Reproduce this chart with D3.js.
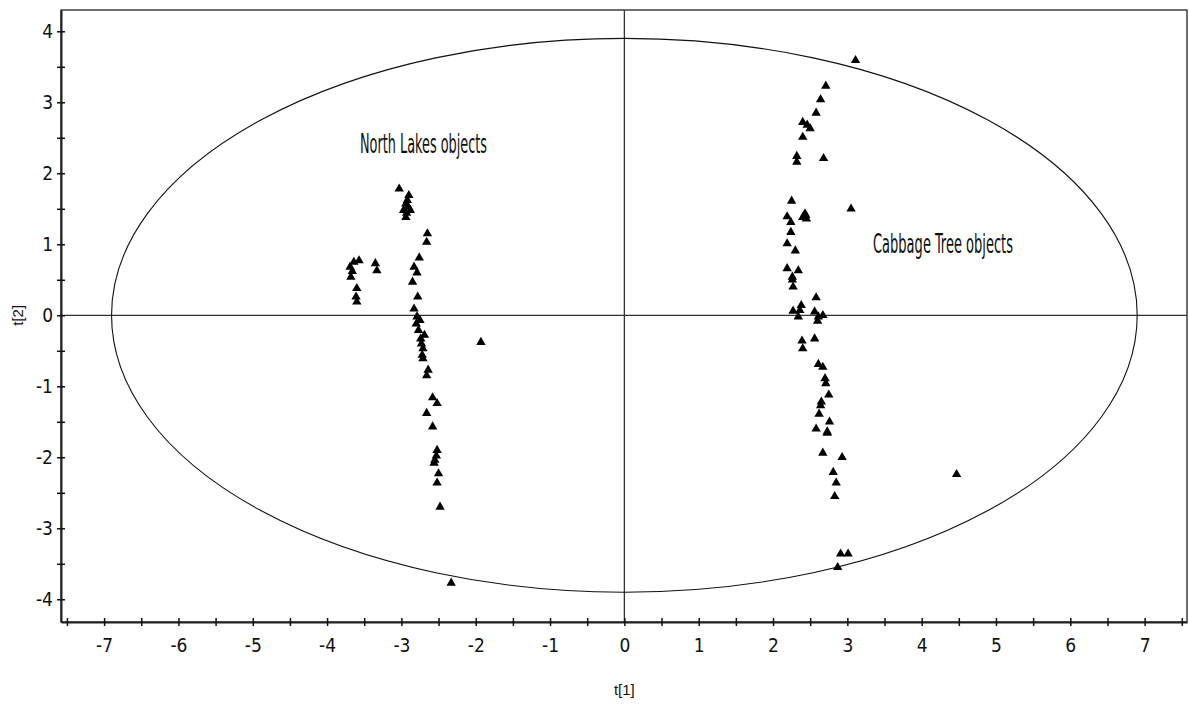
<!DOCTYPE html>
<html><head><meta charset="utf-8">
<script src="https://cdn.jsdelivr.net/npm/d3@7"></script>
<style>
body{margin:0;background:#fff;}
svg{display:block;}
</style></head>
<body>
<svg id="chart" width="1189" height="705"></svg>
<script>
// ---- data ----
const xDomain = [-7.58, 7.57];
const yDomain = [-4.32, 4.30];
const xTickLabels = [-7,-6,-5,-4,-3,-2,-1,0,1,2,3,4,5,6,7];
const yTickLabels = [-4,-3,-2,-1,0,1,2,3,4];
const ellipseRadii = [6.9, 3.9];
const xTitle = "t[1]";
const yTitle = "t[2]";
const groupLabels = ["North Lakes objects", "Cabbage Tree objects"];

const northLakesT1 = [-3.03,-2.90,-2.94,-2.91,-2.97,-2.88,-2.94,-2.92,-2.65,-2.66,-2.76,-2.83,-2.79,-2.85,-2.78,-2.83,-2.79,-2.75,-2.77,-2.69,-2.73,-2.71,-2.72,-2.71,-2.64,-2.66,-2.58,-2.52,-2.66,-2.58,-2.52,-2.55,-2.50,-2.52,-2.48,-2.33,-1.93,-3.69,-3.64,-3.57,-3.68,-3.60,-3.61,-3.60,-3.35,-3.33,-3.66,-2.80,-2.74,-2.93,-2.53,-2.56];
const northLakesT2 = [1.78,1.69,1.57,1.53,1.48,1.48,1.38,1.62,1.15,1.03,0.81,0.68,0.60,0.47,0.26,0.09,-0.02,-0.07,-0.21,-0.28,-0.40,-0.47,-0.56,-0.61,-0.77,-0.85,-1.16,-1.24,-1.38,-1.57,-1.90,-2.04,-2.23,-2.36,-2.70,-3.77,-0.38,0.68,0.75,0.77,0.54,0.38,0.26,0.19,0.73,0.63,0.62,-0.12,-0.33,1.44,-1.98,-2.08];

const cabbageTreeT1 = [3.11,2.71,2.64,2.58,2.40,2.46,2.50,2.40,2.32,2.32,2.68,2.25,2.19,2.24,2.43,2.45,2.40,3.05,2.24,2.19,2.30,2.19,2.34,2.26,2.26,2.27,2.58,2.38,2.27,2.34,2.36,2.56,2.61,2.67,2.60,2.56,2.39,2.40,2.61,2.67,2.70,2.71,2.75,2.65,2.64,2.62,2.76,2.58,2.73,2.67,2.93,2.81,2.85,2.83,2.91,3.01,2.87,4.47,2.44,2.73];
const cabbageTreeT2 = [3.59,3.23,3.04,2.85,2.72,2.68,2.63,2.51,2.24,2.16,2.21,1.61,1.39,1.31,1.43,1.36,1.38,1.50,1.17,1.01,0.91,0.66,0.63,0.54,0.50,0.40,0.25,0.14,0.06,-0.02,0.07,0.05,-0.02,0.00,-0.08,-0.33,-0.36,-0.47,-0.69,-0.73,-0.89,-0.96,-1.12,-1.22,-1.27,-1.39,-1.50,-1.60,-1.64,-1.94,-2.00,-2.21,-2.36,-2.55,-3.36,-3.36,-3.55,-2.24,1.41,-1.66];

// ---- layout ----
const svg = d3.select("#chart");
const L = 61, R = 1187, T = 10, B = 622;
const x = d3.scaleLinear().domain(xDomain).range([L, R]);
const y = d3.scaleLinear().domain(yDomain).range([B, T]);
const font = "'Liberation Sans Narrow','Arial Narrow','DejaVu Sans Condensed',sans-serif";

// frame
svg.append("rect").attr("x", L).attr("y", T).attr("width", R - L).attr("height", B - T)
  .attr("fill", "none").attr("stroke", "#222").attr("stroke-width", 1.3);

// zero lines
svg.append("line").attr("x1", x(0)).attr("x2", x(0)).attr("y1", T).attr("y2", B)
  .attr("stroke", "#333").attr("stroke-width", 1.3);
svg.append("line").attr("x1", L).attr("x2", R).attr("y1", y(0)).attr("y2", y(0))
  .attr("stroke", "#333").attr("stroke-width", 1.3);

// ellipse
svg.append("ellipse").attr("cx", x(0)).attr("cy", y(0))
  .attr("rx", x(ellipseRadii[0]) - x(0)).attr("ry", y(0) - y(ellipseRadii[1]))
  .attr("fill", "none").attr("stroke", "#111").attr("stroke-width", 1.1);

// x axis
const xTicks = d3.range(-7.5, 7.51, 0.5);
const xAxis = d3.axisBottom(x).tickValues(xTicks)
  .tickFormat(d => Number.isInteger(d) && xTickLabels.includes(d) ? String(d) : "")
  .tickSizeInner(4).tickSizeOuter(0).tickPadding(13);
const gx = svg.append("g").attr("transform", `translate(0,${B})`).call(xAxis);
gx.attr("font-size", null).attr("font-family", null);
gx.select(".domain").attr("stroke", "#222").attr("stroke-width", 2);
gx.selectAll(".tick line").attr("y1", -4).attr("y2", 4).attr("stroke", "#111").attr("stroke-width", 1.5);
gx.selectAll(".tick text").style("font-family", font).style("font-size", "19px").attr("fill", "#111");

// y axis
const yTicks = d3.range(-4, 4.01, 0.5);
const yAxis = d3.axisLeft(y).tickValues(yTicks)
  .tickFormat(d => Number.isInteger(d) && yTickLabels.includes(d) ? String(d) : "")
  .tickSizeInner(4).tickSizeOuter(0).tickPadding(4);
const gy = svg.append("g").attr("transform", `translate(${L},0)`).call(yAxis);
gy.attr("font-size", null).attr("font-family", null);
gy.select(".domain").attr("stroke", "#222").attr("stroke-width", 2);
gy.selectAll(".tick line").attr("x1", -4).attr("x2", 4).attr("stroke", "#111").attr("stroke-width", 1.5);
gy.selectAll(".tick text").style("font-family", font).style("font-size", "19px").attr("fill", "#111");

// axis titles
svg.append("text").attr("x", x(0)).attr("y", 695).attr("text-anchor", "middle")
  .style("font-family", "'Liberation Sans',Arial,sans-serif").style("font-size", "15px").attr("fill", "#111").text(xTitle);
svg.append("text").attr("transform", `translate(23,${y(0)}) rotate(-90)`).attr("text-anchor", "middle")
  .style("font-family", "'Liberation Sans',Arial,sans-serif").style("font-size", "15px").attr("fill", "#111").text(yTitle);

// points
const tri = d3.symbol().type(d3.symbolTriangle).size(38);
const pts = northLakesT1.map((v, i) => [v, northLakesT2[i]])
  .concat(cabbageTreeT1.map((v, i) => [v, cabbageTreeT2[i]]));
svg.append("g").selectAll("path").data(pts).join("path")
  .attr("d", tri).attr("transform", d => `translate(${x(d[0])},${y(d[1])})`)
  .attr("fill", "#000");

// group labels
svg.append("text").attr("x", 360).attr("y", 153)
  .style("font-family", font).style("font-size", "27px").attr("fill", "#111")
  .attr("textLength", 127).attr("lengthAdjust", "spacingAndGlyphs").text(groupLabels[0]);
svg.append("text").attr("x", 873).attr("y", 253)
  .style("font-family", font).style("font-size", "27px").attr("fill", "#111")
  .attr("textLength", 140).attr("lengthAdjust", "spacingAndGlyphs").text(groupLabels[1]);
</script>
</body></html>
